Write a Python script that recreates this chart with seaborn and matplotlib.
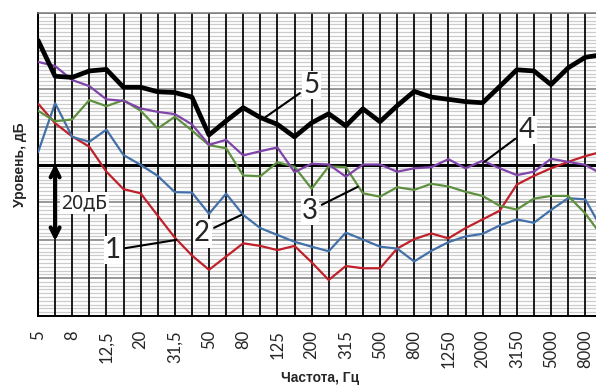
import numpy as np
import pandas as pd
import matplotlib
matplotlib.use("Agg")
import matplotlib.pyplot as plt
import seaborn as sns

# 1/3-octave bands, Hz
bands = ["5", "6,3", "8", "10", "12,5", "16", "20", "25", "31,5", "40", "50", "63",
         "80", "100", "125", "160", "200", "250", "315", "400", "500", "630", "800",
         "1000", "1250", "1600", "2000", "2500", "3150", "4000", "5000", "6300",
         "8000", "10000"]

# levels, dB
curve1 = [16.1, 10.9, 7.4, 4.7, -1.9, -6.5, -7.6, -13.5, -19.3, -24.0, -27.8, -24.3,
          -20.8, -21.5, -22.6, -21.5, -25.8, -30.5, -26.8, -27.4, -27.4, -22.2, -19.7,
          -18.2, -19.5, -16.8, -14.5, -12.2, -5.3, -3.0, -1.0, 0.7, 2.2, 3.4]
curve2 = [3.2, 16.2, 7.3, 6.0, 9.2, 2.5, -0.1, -3.0, -7.3, -7.4, -13.0, -7.7,
          -13.3, -16.8, -18.6, -20.4, -21.7, -22.9, -18.0, -19.8, -21.7, -22.2, -25.6,
          -22.8, -20.5, -19.0, -18.3, -16.1, -14.5, -15.4, -12.0, -8.9, -9.2, -17.2]
curve3 = [14.2, 11.4, 11.9, 17.0, 15.4, 17.0, 14.2, 9.5, 12.6, 9.0, 5.1, 4.3,
          -2.9, -3.1, 0.6, -0.6, -6.4, -0.5, -0.7, -7.6, -8.5, -6.0, -6.7,
          -5.1, -5.8, -7.2, -8.3, -10.9, -11.9, -9.0, -8.3, -8.3, -12.9, -19.0]
curve4 = [27.1, 26.0, 22.3, 20.7, 17.2, 16.8, 14.8, 13.9, 13.3, 10.6, 5.2, 6.5,
          2.4, 3.5, 4.5, -2.0, 0.2, 0.0, -3.2, 0.0, 0.0, -1.9, -1.0,
          -0.7, 1.4, -1.0, 1.0, -1.0, -2.8, -1.9, 1.5, 0.7, -0.1, -2.6]
curve5 = [32.8, 23.3, 23.0, 24.7, 25.1, 20.4, 20.4, 19.2, 19.0, 17.8, 7.8, 11.5,
          15.0, 12.4, 10.6, 7.3, 11.0, 13.4, 10.2, 14.7, 11.3, 15.5, 19.3,
          17.8, 17.2, 16.6, 16.3, 20.6, 25.0, 24.7, 21.1, 25.5, 28.3, 29.0]

names = ["1", "2", "3", "4", "5"]
colors = ["#c0202a", "#4270a8", "#5e9040", "#7f44a8", "#000000"]
widths = [1.6, 1.6, 1.6, 1.6, 3.4]

# label positions (data coords): text, point on curve
label_text = [(4.4, -22.6), (9.6, -18.2), (15.9, -12.2), (28.6, 9.1), (16.0, 21.0)]
label_tip = [(8.1, -19.9), (11.9, -13.3), (18.7, -5.9), (26.1, 0.7), (13.3, 12.5)]

idx = np.arange(len(bands))
df = pd.DataFrame({"band": idx, "1": curve1, "2": curve2, "3": curve3,
                   "4": curve4, "5": curve5})
long_df = df.melt(id_vars="band", var_name="curve", value_name="level")

sns.set_style("white")
fig = plt.figure(figsize=(5.96, 3.87), dpi=100)
ax = fig.add_axes([38 / 596, 71 / 387, 558 / 596, 303 / 387])

# grid
for v in np.arange(-40, 41, 1):
    if v % 10:
        ax.axhline(v, color="#cccccc", lw=0.9, zorder=0)
for v in np.arange(-40, 41, 10):
    ax.axhline(v, color="#7a7a7a", lw=1.1, zorder=1)
for i in idx:
    ax.axvline(i, color="#1a1a1a", lw=1.4, zorder=1)
ax.axhline(0, color="black", lw=2.2, zorder=2)

for name, c, w in zip(names, colors, widths):
    sns.lineplot(data=long_df[long_df["curve"] == name], x="band", y="level",
                 color=c, lw=w, ax=ax, zorder=3 if name != "5" else 4)

for name, (tx, ty), (px, py) in zip(names, label_text, label_tip):
    ax.annotate(name, xy=(px, py), xytext=(tx, ty), fontsize=20, family="Lato",
                ha="center", va="center", zorder=6,
                bbox=dict(facecolor="white", edgecolor="none", pad=1),
                arrowprops=dict(arrowstyle="-", color="black", lw=1.5,
                                shrinkA=2, shrinkB=0))

# 20 dB scale arrow
ax.annotate("", xy=(1, -20.2), xytext=(1, 0.2), zorder=6,
            arrowprops=dict(arrowstyle="<->", color="black", lw=3,
                            mutation_scale=16, shrinkA=0, shrinkB=0))
ax.text(1.38, -10.2, "20дБ", fontsize=14, family=["Noto Sans", "DejaVu Sans"],
        ha="left", va="center", zorder=6,
        bbox=dict(facecolor="white", edgecolor="none", pad=1))

ax.set_xlim(0, 558 / 17.1)
ax.set_ylim(-40, 40)
ax.set_xticks(idx[::2])
ax.set_xticklabels(bands[::2], rotation=90, fontsize=12, family="Lato")
ax.set_yticks([])
ax.tick_params(axis="x", length=0, pad=10)

ax.set_xlabel("Частота, Гц", fontsize=10, fontweight="bold", family="Liberation Sans")
ax.set_ylabel("Уровень, дБ", fontsize=10, fontweight="bold", family="Liberation Sans")
ax.xaxis.set_label_coords(0.505, -0.18)
ax.yaxis.set_label_coords(-0.02, 0.5)

for s in ["left", "bottom"]:
    ax.spines[s].set_color("black")
    ax.spines[s].set_linewidth(1.4)
for s in ["top", "right"]:
    ax.spines[s].set_color("#7a7a7a")
    ax.spines[s].set_linewidth(1.1)
ax.spines["right"].set_visible(False)

fig.savefig("out.png", dpi=100)
